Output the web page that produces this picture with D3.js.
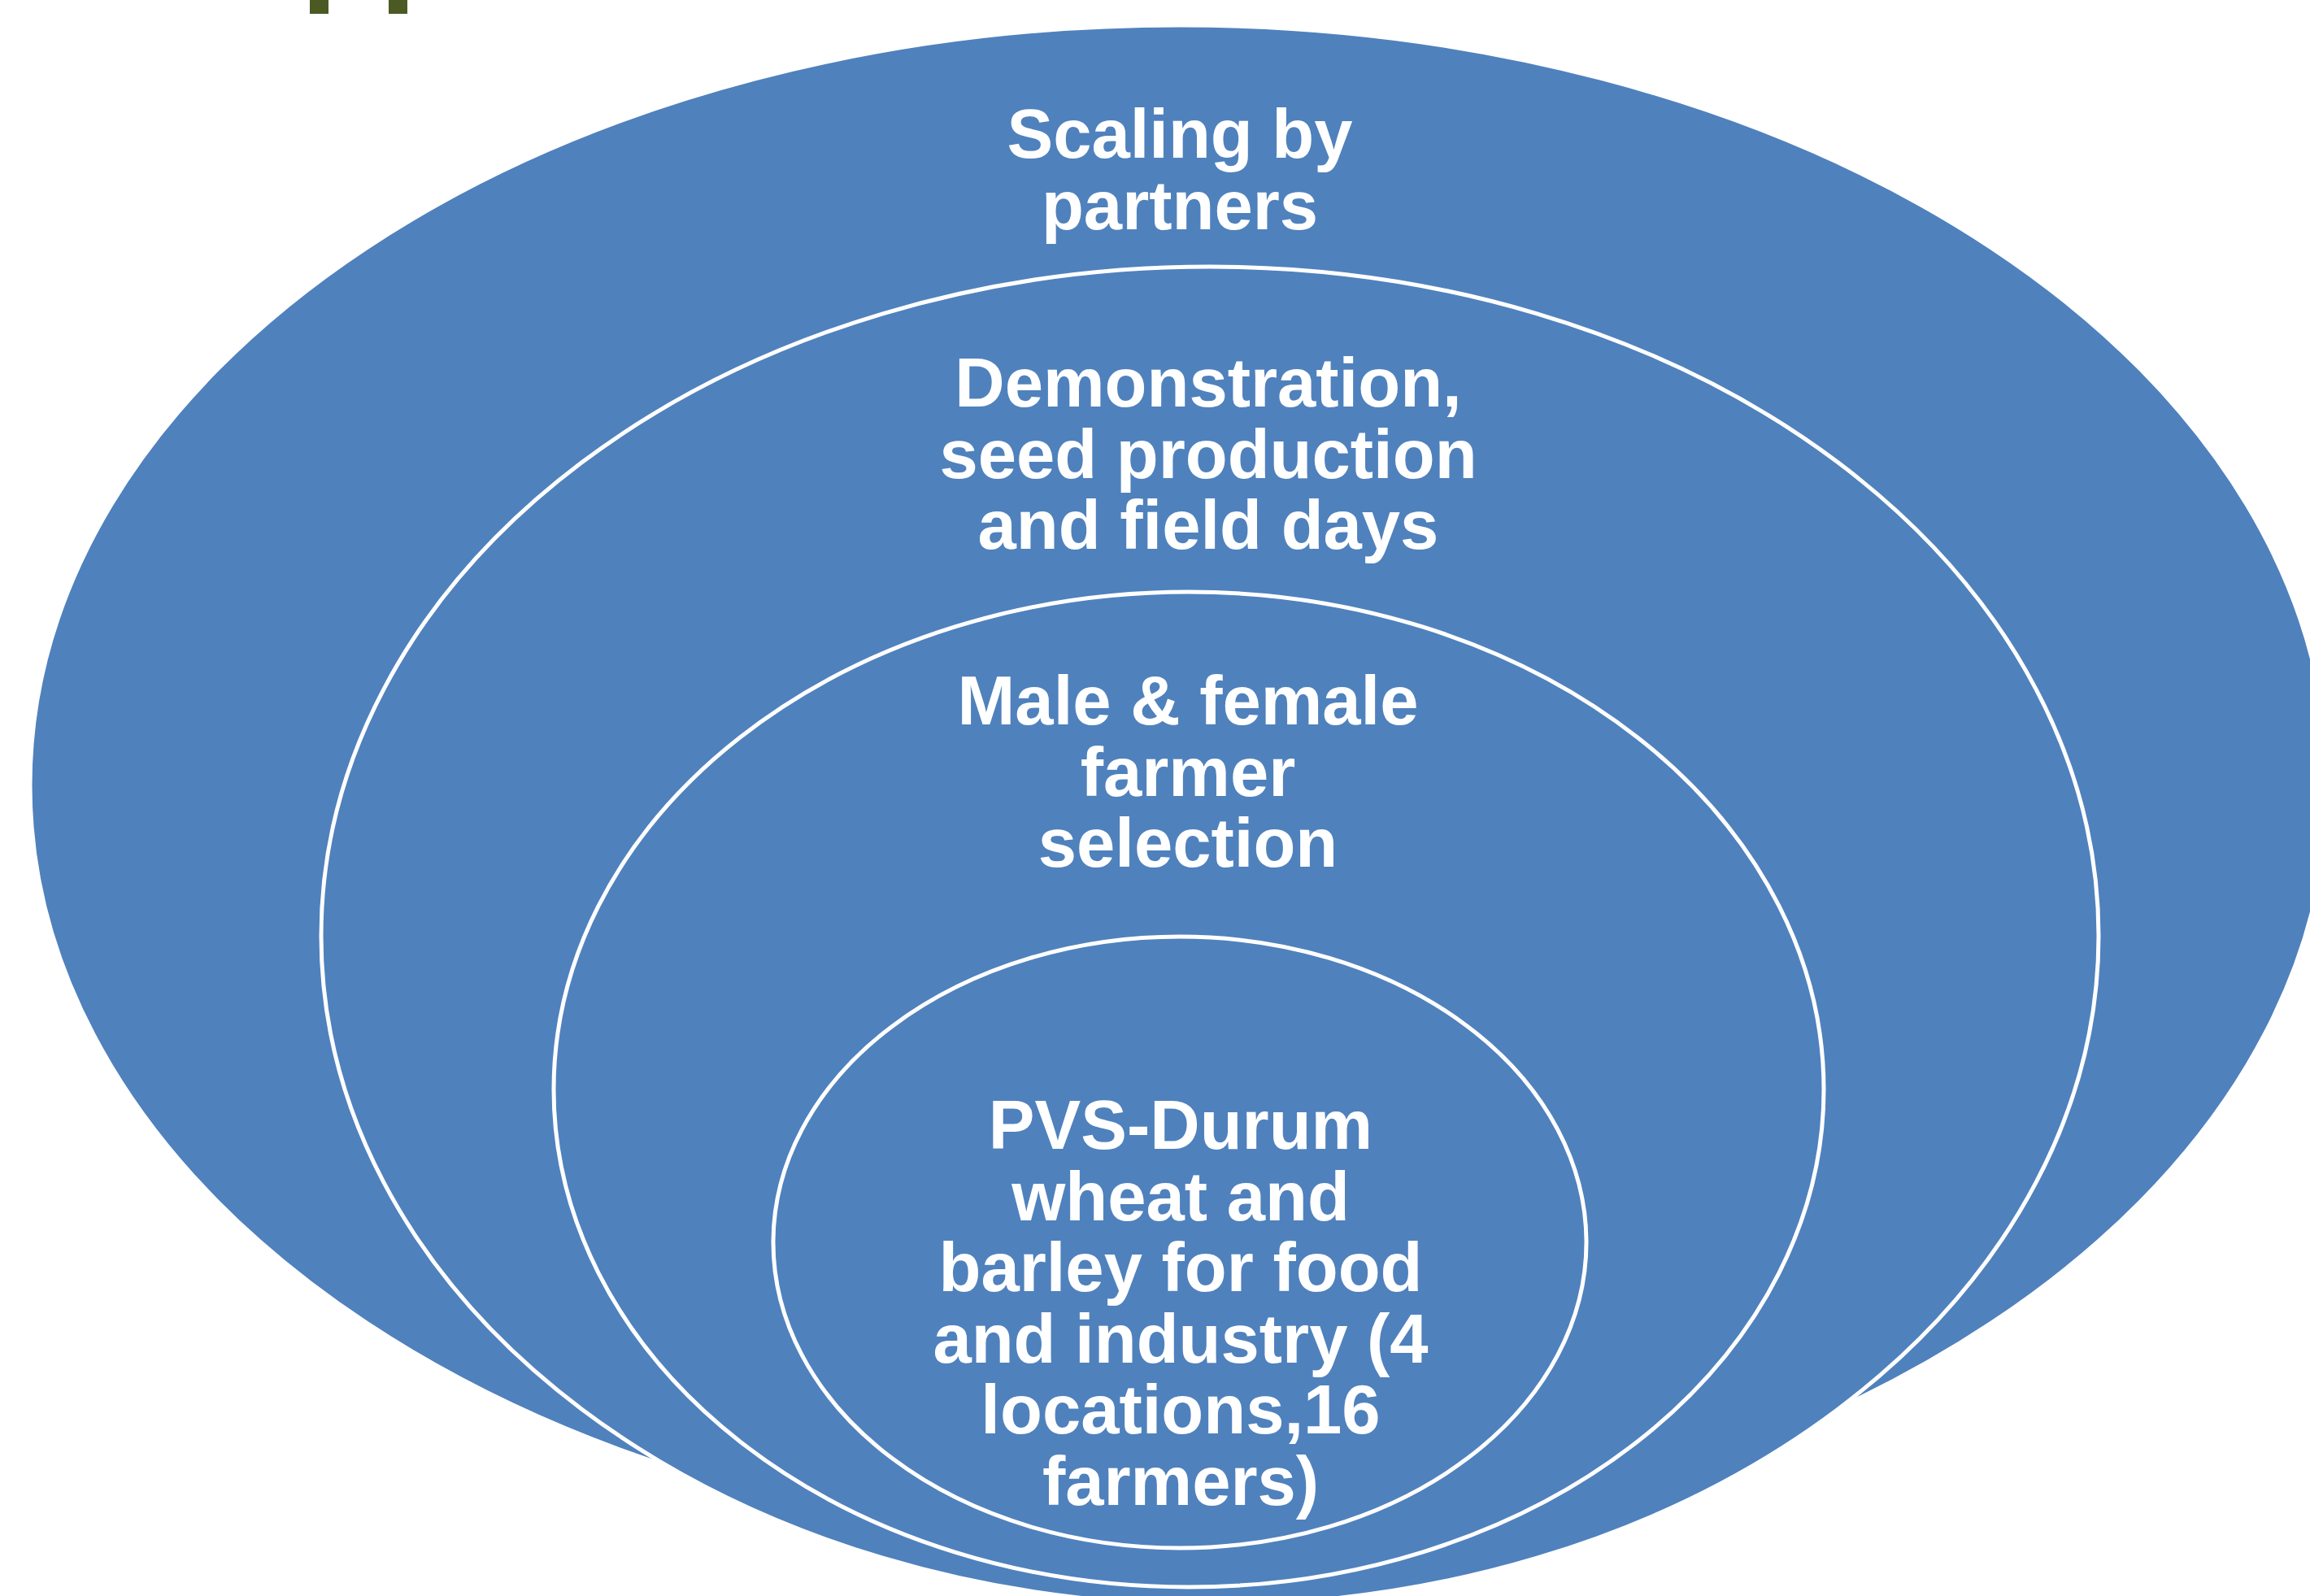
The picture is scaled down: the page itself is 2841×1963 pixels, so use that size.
<!DOCTYPE html>
<html>
<head>
<meta charset="utf-8">
<script src="https://cdn.jsdelivr.net/npm/d3@7"></script>
<style>
  html, body { margin: 0; padding: 0; background: #ffffff; overflow: hidden; }
  svg { display: block; }
</style>
</head>
<body>
<script>
// ---- content ----
const levels = ["Scaling by partners", "Demonstration", "Farmer selection", "PVS"];
const labelLines = [
  ["Scaling by", "partners"],
  ["Demonstration,", "seed production", "and field days"],
  ["Male & female", "farmer", "selection"],
  ["PVS-Durum", "wheat and", "barley for food", "and industry (4", "locations,16", "farmers)"]
];

// ---- layout (pixel geometry, kept separate from content) ----
const W = 2841, H = 1963;
const ellipses = [
  { cx: 1450, cy: 966,  rx: 1413, ry: 935 },
  { cx: 1488, cy: 1151, rx: 1093, ry: 823 },
  { cx: 1462, cy: 1340, rx: 781,  ry: 612 },
  { cx: 1451, cy: 1528, rx: 500,  ry: 376 }
];
const textAnchors = [
  { x: 1451, y: 194 },
  { x: 1486, y: 500 },
  { x: 1461, y: 891 },
  { x: 1452, y: 1413 }
];
const fontSize = 85, lineStep = 87.5;
const fill = "#4F81BD";

const svg = d3.select("body").append("svg")
  .attr("width", W).attr("height", H)
  .attr("viewBox", `0 0 ${W} ${H}`);

// decorative marks at the top (slide header remnants)
svg.selectAll("rect.mark").data([381, 478]).enter().append("rect")
  .attr("class", "mark")
  .attr("x", d => d).attr("y", 0)
  .attr("width", 23).attr("height", 17)
  .attr("fill", "#4B5A23");

const g = svg.selectAll("g.level").data(levels).enter().append("g").attr("class", "level");

g.append("ellipse")
  .attr("cx", (d, i) => ellipses[i].cx)
  .attr("cy", (d, i) => ellipses[i].cy)
  .attr("rx", (d, i) => ellipses[i].rx)
  .attr("ry", (d, i) => ellipses[i].ry)
  .attr("fill", fill)
  .attr("stroke", "#ffffff")
  .attr("stroke-width", 5);

g.append("text")
  .attr("x", (d, i) => textAnchors[i].x)
  .attr("y", (d, i) => textAnchors[i].y)
  .attr("text-anchor", "middle")
  .attr("fill", "#ffffff")
  .style("font-family", "'Liberation Sans', Arial, sans-serif")
  .style("font-weight", "bold")
  .style("font-size", fontSize + "px")
  .each(function(d, i) {
    const t = d3.select(this);
    labelLines[i].forEach((line, j) => {
      t.append("tspan")
        .attr("x", textAnchors[i].x)
        .attr("y", textAnchors[i].y + j * lineStep)
        .text(line);
    });
  });
</script>
</body>
</html>
